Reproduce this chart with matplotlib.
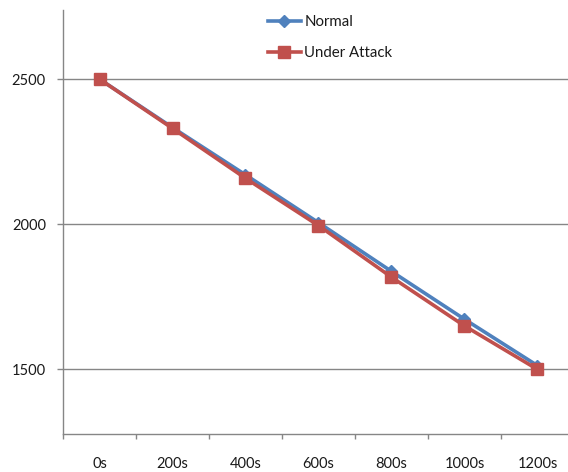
import matplotlib
matplotlib.use("Agg")
import matplotlib.pyplot as plt
from matplotlib.ticker import FixedLocator

# Series data
times = ["0s", "200s", "400s", "600s", "800s", "1000s", "1200s"]
normal = [2500, 2333, 2170, 2005, 1837, 1672, 1512]
under_attack = [2500, 2330, 2158, 1995, 1817, 1649, 1499]
y_ticks = [1500, 2000, 2500]

plt.rcParams['font.family'] = ['Lato', 'DejaVu Sans']

fig = plt.figure(figsize=(5.68, 4.72), dpi=100)
W, H = 568, 472
ax = fig.add_axes([63 / W, 1 - 433.5 / H, (574 - 63) / W, (433.5 - 9.5) / H])

grid_col = "#868686"
x = list(range(len(times)))

ax.plot(x, normal, color="#4F81BD", lw=2.6, marker="D", ms=6.5,
        mec="#4F81BD", mfc="#4F81BD", label="Normal", zorder=3)
ax.plot(x, under_attack, color="#C0504D", lw=2.6, marker="s", ms=9,
        mec="#C0504D", mfc="#C0504D", label="Under Attack", zorder=4)

ax.set_xlim(-0.5, len(times) - 0.5)
ax.set_ylim(1278, 2740)

# category boundaries get tick marks, centres get labels
ax.xaxis.set_major_locator(FixedLocator([i - 0.5 for i in range(len(times) + 1)]))
ax.xaxis.set_minor_locator(FixedLocator(x))
ax.set_xticklabels([])
ax.set_xticklabels(times, minor=True)
ax.tick_params(axis="x", which="major", length=3.6, width=1, color=grid_col, direction="out")
ax.tick_params(axis="x", which="minor", length=0, pad=17, labelsize=10.5, labelcolor="#1a1a1a")

ax.set_yticks(y_ticks)
ax.set_yticklabels([str(v) for v in y_ticks])
ax.tick_params(axis="y", length=4.3, width=1, color=grid_col, pad=8, labelsize=10.5,
               labelcolor="#1a1a1a")
ax.yaxis.grid(True, color=grid_col, lw=1)
ax.set_axisbelow(True)

for s in ("top", "right"):
    ax.spines[s].set_visible(False)
for s in ("left", "bottom"):
    ax.spines[s].set_color(grid_col)
    ax.spines[s].set_linewidth(1)

leg = fig.legend(loc="upper left", bbox_to_anchor=(254 / W, 1 - 2 / H), frameon=False,
                 fontsize=10.8, handlelength=2.2, labelspacing=1.1, handletextpad=0.25)
for t in leg.get_texts():
    t.set_color("#1a1a1a")

fig.savefig("out.png", dpi=100)
